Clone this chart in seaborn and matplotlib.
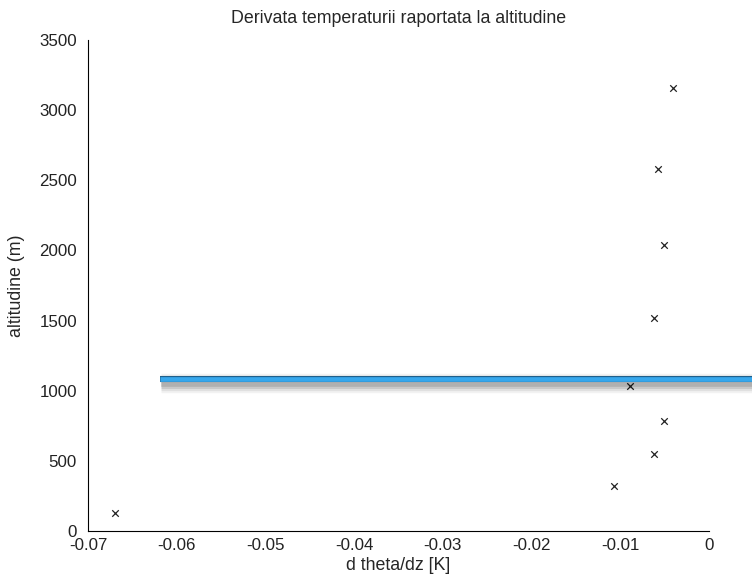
import matplotlib
matplotlib.use("Agg")
import matplotlib.pyplot as plt
import matplotlib.patheffects as pe
import seaborn as sns
import pandas as pd

dtheta_dz = [-0.0670, -0.0107, -0.0062, -0.0051, -0.0089, -0.0062, -0.0051, -0.0057, -0.0041]
altitude = [128, 321, 549, 784, 1033, 1518, 2038, 2580, 3157]
xticks = [-0.07, -0.06, -0.05, -0.04, -0.03, -0.02, -0.01, 0]
xticklabels = ["-0.07", "-0.06", "-0.05", "-0.04", "-0.03", "-0.02", "-0.01", "0"]
yticks = [0, 500, 1000, 1500, 2000, 2500, 3000, 3500]
line_x = [-0.0619, 0.0049]
line_y = [1083, 1083]

sns.set_style("white")
plt.rcParams['font.family'] = ['Liberation Sans', 'DejaVu Sans']

df = pd.DataFrame({"x": dtheta_dz, "y": altitude})

fig = plt.figure(figsize=(7.52, 5.84), dpi=100)
ax = fig.add_axes([88/752, 53/584, 621/752, 491/584])

sns.scatterplot(data=df, x="x", y="y", marker="x", color="#222222", s=22,
                linewidth=0.9, ax=ax, zorder=3)

shadows = [pe.SimpleLineShadow(offset=(1, -3), shadow_color="black", alpha=a, linewidth=w)
           for w, a in [(14, 0.05), (11, 0.07), (8, 0.1), (5.5, 0.12)]]
ax.plot(line_x, line_y, color="#36a7ec", lw=3.4, solid_capstyle="butt", clip_on=False, zorder=4,
        path_effects=shadows + [pe.Stroke(linewidth=4.4, foreground="#1f5f8a"),
                                pe.Normal()])

fs = 12.8
ax.set_xlim(-0.07, 0)
ax.set_ylim(0, 3500)
ax.set_xticks(xticks)
ax.set_xticklabels(xticklabels)
ax.set_yticks(yticks)
ax.tick_params(direction="in", length=5, width=0.8, labelsize=12.2, colors="#222222", pad=8)
ax.tick_params(axis="x", pad=5)
for s in ["top", "right"]:
    ax.spines[s].set_visible(False)
for s in ["left", "bottom"]:
    ax.spines[s].set_color("black")
    ax.spines[s].set_linewidth(0.8)

ax.set_xlabel("d theta/dz [K]", fontsize=fs, labelpad=3)
ax.set_ylabel("altitudine (m)", fontsize=fs, labelpad=10)
ax.set_title("Derivata temperaturii raportata la altitudine", fontsize=fs, pad=12)

fig.savefig("out.png", dpi=100)
